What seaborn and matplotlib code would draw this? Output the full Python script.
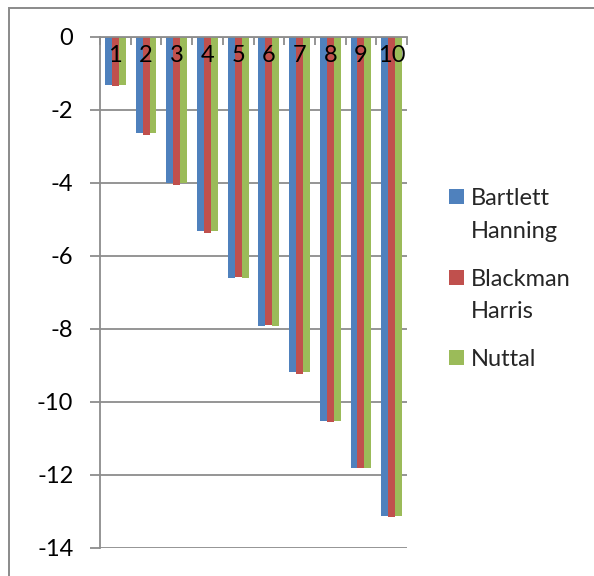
import matplotlib
matplotlib.use("Agg")
import matplotlib.pyplot as plt
import matplotlib.patches as mpatches
from matplotlib.ticker import FixedLocator
import seaborn as sns
import pandas as pd

categories = ["1", "2", "3", "4", "5", "6", "7", "8", "9", "10"]
series = ["Bartlett Hanning", "Blackman Harris", "Nuttal"]
bartlett_hanning = [-1.33, -2.65, -4.01, -5.32, -6.62, -7.93, -9.18, -10.52, -11.81, -13.13]
blackman_harris = [-1.36, -2.70, -4.06, -5.39, -6.57, -7.90, -9.24, -10.56, -11.82, -13.15]
nuttal = [-1.33, -2.65, -4.01, -5.32, -6.62, -7.93, -9.18, -10.52, -11.81, -13.13]
y_ticks = [0, -2, -4, -6, -8, -10, -12, -14]
colors = ["#4F81BD", "#C0504D", "#9BBB59"]

df = pd.DataFrame({
    "cat": categories * 3,
    "value": bartlett_hanning + blackman_harris + nuttal,
    "series": [s for s in series for _ in categories],
})

sns.set_theme(style="white")
plt.rcParams["font.family"] = ["Lato", "DejaVu Sans"]

W, H = 594, 576
fig = plt.figure(figsize=(W / 100, H / 100), dpi=100)
fig.patch.set_facecolor("white")

# chart area frame
frame = mpatches.Rectangle((9 / W, -0.1), 1.2, 1.1 - 8 / H,
                           transform=fig.transFigure, fill=False,
                           edgecolor="#8a8a8a", linewidth=1.4)
fig.patches.append(frame)

ax = fig.add_axes([100 / W, 1 - 547.7 / H, 307 / W, (547.7 - 36.7) / H])
grid_c = "#8c8c8c"

sns.barplot(data=df, x="cat", y="value", hue="series", palette=colors,
            hue_order=series, order=categories, width=0.675, saturation=1,
            gap=0, edgecolor="none", linewidth=0, legend=False, ax=ax)
for bar in ax.patches:
    bar.set_zorder(1)

ax.set_axisbelow(False)
ax.set_xlim(-0.5, len(categories) - 0.5)
ax.set_ylim(-14, 0)
ax.set_yticks(y_ticks)
ax.set_yticklabels([str(t) for t in y_ticks])
ax.set_xlabel("")
ax.set_ylabel("")
ax.grid(False)
# horizontal gridlines behind the bars
for t in y_ticks:
    ax.axhline(t, color=grid_c, linewidth=1.3, zorder=0.5)

for side in ["right", "bottom"]:
    ax.spines[side].set_visible(False)
for side in ["left", "top"]:
    ax.spines[side].set_color(grid_c)
    ax.spines[side].set_linewidth(1.3)

# category axis sits at zero, on top of the plot
ax.xaxis.set_ticks_position("top")
ax.xaxis.set_minor_locator(FixedLocator([i - 0.5 for i in range(len(categories) + 1)]))
ax.tick_params(axis="x", which="major", length=0, labeltop=True, labelbottom=False,
               pad=-21, labelsize=17, labelcolor="black")
ax.tick_params(axis="x", which="minor", direction="in", length=6, width=1.3,
               color=grid_c, top=True, bottom=False)
ax.tick_params(axis="y", which="major", direction="out", length=7.2, width=1.3,
               color=grid_c, pad=12, labelsize=17, labelcolor="black", left=True)

# legend
sq = 15
entries = [(188.5, [205, 238]), (269.5, [286, 318]), (350, [366])]
for name, col, (top, baselines) in zip(series, colors, entries):
    fig.patches.append(mpatches.Rectangle((449 / W, 1 - (top + sq) / H), sq / W, sq / H,
                                          transform=fig.transFigure,
                                          facecolor=col, edgecolor="none"))
    for word, base in zip(name.split(" "), baselines):
        fig.text(471 / W, 1 - base / H, word, fontsize=17,
                 va="baseline", ha="left", transform=fig.transFigure)

fig.savefig("out.png", dpi=100, facecolor="white")
